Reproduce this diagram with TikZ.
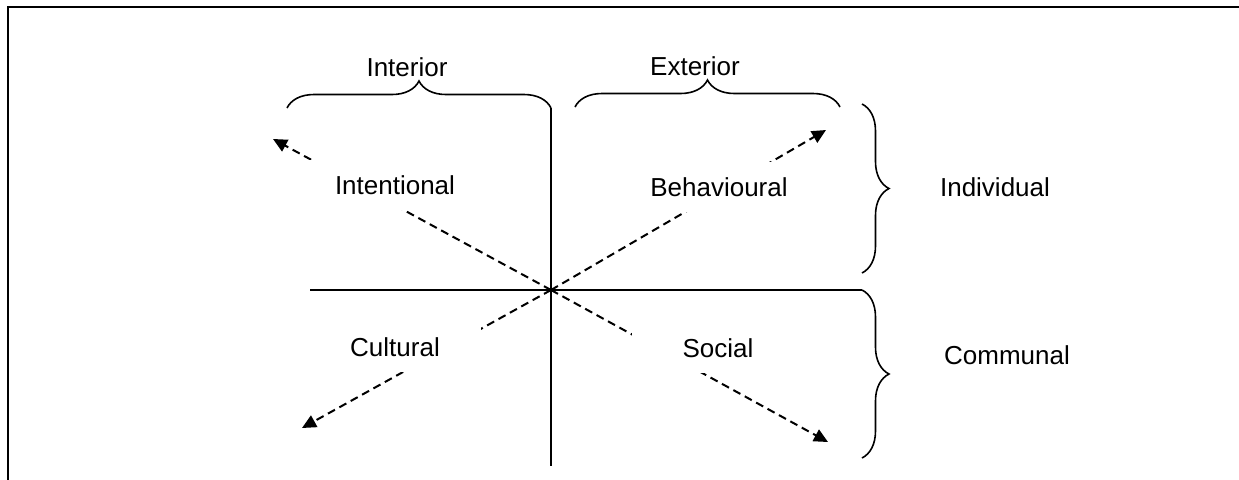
\documentclass[tikz,border=0pt]{standalone}
\usepackage{fontspec}
\setmainfont{Liberation Sans}
\usepackage{tikz}
\usetikzlibrary{arrows.meta}
\usetikzlibrary{decorations.pathreplacing}
\tikzset{
    axisline/.style={line width=1pt},
    quadarrow/.style={line width=1pt, dash pattern=on 4pt off 2.5pt, -{Triangle[length=7pt,width=6.5pt]}},
    quadlabel/.style={fill=white, inner sep=0pt, minimum width=86pt, minimum height=25pt},
    sidelabel/.style={inner sep=1pt},
    bracket/.style={line width=0.8pt, decorate, decoration={brace, amplitude=13.5pt}}
}

\begin{document}
\begin{tikzpicture}[
  x=0.5pt, y=-0.5pt,
  every node/.style={font=\fontsize{13}{15}\selectfont}]

\useasboundingbox (0,0) rectangle (1239,479);
\draw[line width=1.25pt] (8,490) -- (8,7) -- (1250,7);

% axes
\coordinate (o) at (551,290);
\coordinate (vtop) at (551,108);
\coordinate (vbot) at (551,466);
\coordinate (hleft) at (310,290);
\coordinate (hright) at (862,290);
\draw[axisline] (vtop) -- (vbot);
\draw[axisline] (hleft) -- (hright);

% diagonals
\coordinate (ul) at (273,139);
\coordinate (ur) at (826,130);
\coordinate (ll) at (302,428);
\coordinate (lr) at (828,442);
\draw[quadarrow] (o) -- (ul);
\draw[quadarrow] (o) -- (ur);
\draw[quadarrow] (o) -- (ll);
\draw[quadarrow] (o) -- (lr);

\node[quadlabel] (intentional) at (395,185) {Intentional};
\node[quadlabel] (behavioural) at (719,187) {Behavioural};
\node[quadlabel] (cultural) at (395,347) {Cultural};
\node[quadlabel] (social) at (718,348) {Social};

% braces
\draw[bracket] (287,108) -- (551,108);
\draw[bracket] (575,107) -- (840,107);
\draw[bracket] (862,104) -- (862,273);
\draw[bracket] (862,290) -- (862,458);

\node[sidelabel] (interior) at (407,67) {Interior};
\node[sidelabel] (exterior) at (695,66) {Exterior};
\node[sidelabel] (individual) at (995,187) {Individual};
\node[sidelabel] (communal) at (1007,355) {Communal};

\end{tikzpicture}
\end{document}
